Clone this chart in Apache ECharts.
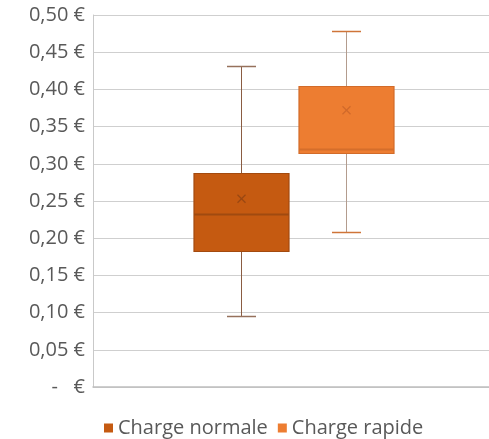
<!DOCTYPE html>
<html lang="fr">
<head>
    <meta charset="UTF-8">
    <title>Coût de charge</title>
    <script src="https://cdn.jsdelivr.net/npm/echarts@6/dist/echarts.min.js"></script>
    <style>
        html, body { margin: 0; padding: 0; background: #fff; }
        #chart { width: 489px; height: 439px; }
    </style>
</head>
<body>
    <div id="chart"></div>
    <script>
        // données
        var seriesNames = ['Charge normale', 'Charge rapide'];
        var minVals = [0.095, 0.208];
        var q1Vals = [0.183, 0.314];
        var medianVals = [0.232, 0.320];
        var q3Vals = [0.288, 0.405];
        var maxVals = [0.432, 0.479];
        var meanVals = [0.253, 0.372];
        var yTicks = [0, 0.05, 0.10, 0.15, 0.20, 0.25, 0.30, 0.35, 0.40, 0.45, 0.50];

        // styles
        var fills = ['#C55A11', '#ED7D31'];
        var borders = ['#A34A0F', '#D26B29'];
        var medianColors = ['#A04A10', '#D56E2B'];
        var whiskerColors = ['#8A5C42', '#B39C8E'];
        var capColors = ['#96715C', '#CF7438'];
        var meanColors = ['#9A4812', '#D0692A'];
        var offsets = [-50, 54.5]; // décalage du centre de chaque boîte dans la catégorie
        var boxWidth = 95;
        var capWidth = 29;

        var chart = echarts.init(document.getElementById('chart'));

        function makeRender(idx) {
            return function (params, api) {
                var cx = Math.round(api.coord([0, 0])[0] + offsets[idx]) + 0.5;
                var yMin = Math.round(api.coord([0, api.value(1)])[1]) + 0.5;
                var yQ1 = Math.round(api.coord([0, api.value(2)])[1]) + 0.5;
                var yMed = Math.round(api.coord([0, api.value(3)])[1]) + 0.5;
                var yQ3 = Math.round(api.coord([0, api.value(4)])[1]) + 0.5;
                var yMax = Math.round(api.coord([0, api.value(5)])[1]) + 0.5;
                var yMean = api.coord([0, api.value(6)])[1];
                var hw = boxWidth / 2, cw = capWidth / 2, m = 4;
                return {
                    type: 'group',
                    children: [
                        { type: 'line', shape: { x1: cx, y1: yQ3, x2: cx, y2: yMax }, style: { stroke: whiskerColors[idx], lineWidth: 1 } },
                        { type: 'line', shape: { x1: cx, y1: yQ1, x2: cx, y2: yMin }, style: { stroke: whiskerColors[idx], lineWidth: 1 } },
                        { type: 'line', shape: { x1: cx - cw, y1: yMax, x2: cx + cw, y2: yMax }, style: { stroke: capColors[idx], lineWidth: 1.5 } },
                        { type: 'line', shape: { x1: cx - cw, y1: yMin, x2: cx + cw, y2: yMin }, style: { stroke: capColors[idx], lineWidth: 1.5 } },
                        { type: 'rect', shape: { x: cx - hw, y: yQ3, width: boxWidth, height: yQ1 - yQ3 },
                          style: { fill: fills[idx], stroke: borders[idx], lineWidth: 1.2 } },
                        { type: 'line', shape: { x1: cx - hw, y1: yMed, x2: cx + hw, y2: yMed }, style: { stroke: medianColors[idx], lineWidth: 2 } },
                        { type: 'line', shape: { x1: cx - m, y1: yMean - m, x2: cx + m, y2: yMean + m }, style: { stroke: meanColors[idx], lineWidth: 1.3 } },
                        { type: 'line', shape: { x1: cx - m, y1: yMean + m, x2: cx + m, y2: yMean - m }, style: { stroke: meanColors[idx], lineWidth: 1.3 } }
                    ]
                };
            };
        }

        var series = seriesNames.map(function (name, i) {
            return {
                name: name,
                type: 'custom',
                itemStyle: { color: fills[i] },
                renderItem: makeRender(i),
                encode: { x: 0, y: [1, 2, 3, 4, 5, 6] },
                data: [[0, minVals[i], q1Vals[i], medianVals[i], q3Vals[i], maxVals[i], meanVals[i]]],
                z: 3
            };
        });

        var option = {
            animation: false,
            textStyle: { fontFamily: 'Open Sans' },
            grid: { left: 93, right: 0, top: 15, bottom: 52 },
            legend: {
                data: seriesNames,
                left: 99,
                top: 413,
                icon: 'rect',
                itemWidth: 9,
                itemHeight: 9,
                itemGap: 10,
                textStyle: { color: '#595959', fontSize: 20, fontFamily: 'Open Sans' }
            },
            xAxis: {
                type: 'category',
                data: [''],
                axisLine: { show: true, lineStyle: { color: '#BFBFBF', width: 1.5 } },
                axisTick: { show: false },
                axisLabel: { show: false },
                splitLine: { show: false }
            },
            yAxis: {
                type: 'value',
                min: yTicks[0],
                max: yTicks[yTicks.length - 1],
                interval: 0.05,
                axisLine: { show: true, lineStyle: { color: '#C9C9C9' } },
                axisTick: { show: false },
                axisLabel: {
                    color: '#595959',
                    fontSize: 20,
                    margin: 8,
                    formatter: function (v) {
                        if (Math.abs(v) < 1e-9) return '-   €';
                        return v.toFixed(2).replace('.', ',') + ' €';
                    }
                },
                splitLine: { lineStyle: { color: '#CFCFCF', width: 1 } }
            },
            series: series
        };
        chart.setOption(option);
    </script>
</body>
</html>
